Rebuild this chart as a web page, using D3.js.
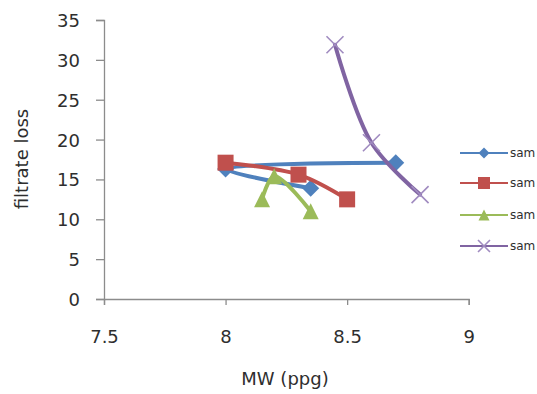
<!DOCTYPE html>
<html>
<head>
<meta charset="utf-8">
<script src="https://cdn.jsdelivr.net/npm/d3@7/dist/d3.min.js"></script>
<style>
  html, body { margin: 0; padding: 0; background: #fff; }
  svg { display: block; font-family: "DejaVu Sans", sans-serif; }
</style>
</head>
<body>
<svg id="chart" width="537" height="394"></svg>
<script>
// Series: mud weight (ppg) vs filtrate loss, in plotting order
const seriesNames = ["sam", "sam", "sam", "sam"];
const s1MW = [8.35, 8.0, 8.7];
const s1Loss = [13.9, 16.3, 17.1];
const s2MW = [8.0, 8.3, 8.5];
const s2Loss = [17.1, 15.6, 12.5];
const s3MW = [8.15, 8.2, 8.35];
const s3Loss = [12.5, 15.4, 11.0];
const s4MW = [8.45, 8.6, 8.8];
const s4Loss = [31.9, 19.6, 13.1];
const xTicks = [7.5, 8, 8.5, 9];
const yTicks = [0, 5, 10, 15, 20, 25, 30, 35];

const colors = ["#4F81BD", "#C0504D", "#9BBB59", "#8064A2"];
const markers = ["diamond", "square", "triangle", "cross"];
const series = [
  { mw: s1MW, loss: s1Loss },
  { mw: s2MW, loss: s2Loss },
  { mw: s3MW, loss: s3Loss },
  { mw: s4MW, loss: s4Loss }
].map((s, i) => ({
  name: seriesNames[i], color: colors[i], marker: markers[i],
  points: s.mw.map((m, j) => [m, s.loss[j]])
}));

const svg = d3.select("#chart");
const x = d3.scaleLinear().domain([7.5, 9]).range([104, 468.7]);
const y = d3.scaleLinear().domain([0, 35]).range([299, 20]);

const axisColor = "#8c8c8c";
const textColor = "#2e2e2e";

// Y axis
const gy = svg.append("g").attr("transform", `translate(${x.range()[0]},0)`)
  .call(d3.axisLeft(y).tickValues(yTicks).tickSize(8).tickPadding(16).tickFormat(d3.format("d")));
// X axis
const gx = svg.append("g").attr("transform", `translate(0,${y.range()[0]})`)
  .call(d3.axisBottom(x).tickValues(xTicks).tickSize(6).tickFormat(d => String(d)));

[gx, gy].forEach(g => {
  g.select(".domain").attr("stroke", axisColor).attr("stroke-width", 1.3);
  g.selectAll(".tick line").attr("stroke", axisColor).attr("stroke-width", 1.3);
  g.selectAll(".tick text").attr("fill", textColor).attr("font-size", 18)
    .attr("font-family", "DejaVu Sans, sans-serif");
});
gy.selectAll(".tick text").attr("dy", "0.36em");
gx.selectAll(".tick text").attr("y", 44).attr("dy", 0);

// Axis titles
svg.append("text").attr("transform", "translate(28,159) rotate(-90)")
  .attr("text-anchor", "middle").attr("font-size", 18).attr("fill", textColor)
  .text("filtrate loss");
svg.append("text").attr("x", 285).attr("y", 385)
  .attr("text-anchor", "middle").attr("font-size", 18).attr("fill", textColor)
  .text("MW (ppg)");

// Marker drawing
function drawMarker(g, type, color, cx, cy, s) {
  const h = s / 2;
  if (type === "diamond") {
    g.append("path").attr("d", `M${cx},${cy - h}L${cx + h},${cy}L${cx},${cy + h}L${cx - h},${cy}Z`)
      .attr("fill", color);
  } else if (type === "square") {
    g.append("rect").attr("x", cx - h).attr("y", cy - h).attr("width", s).attr("height", s)
      .attr("fill", color);
  } else if (type === "triangle") {
    g.append("path").attr("d", `M${cx},${cy - h}L${cx + h},${cy + h}L${cx - h},${cy + h}Z`)
      .attr("fill", color);
  } else {
    g.append("path").attr("d", `M${cx - h},${cy - h}L${cx + h},${cy + h}M${cx + h},${cy - h}L${cx - h},${cy + h}`)
      .attr("stroke", "#a08bc0").attr("stroke-width", 1.6).attr("fill", "none");
  }
}

const markerSize = { diamond: 17, square: 16, triangle: 16, cross: 17 };
const line = d3.line().x(d => x(d[0])).y(d => y(d[1])).curve(d3.curveCatmullRom.alpha(0.5));

series.forEach(s => {
  const g = svg.append("g");
  g.append("path").attr("d", line(s.points)).attr("fill", "none")
    .attr("stroke", s.color).attr("stroke-width", 4).attr("stroke-linecap", "round")
    .attr("stroke-linejoin", "round");
  s.points.forEach(p => drawMarker(g, s.marker, s.color, x(p[0]), y(p[1]), markerSize[s.marker]));
});

// Legend
const legendY = [153, 183, 215, 246];
const legendMarker = { diamond: 11, square: 12, triangle: 11, cross: 12 };
series.forEach((s, i) => {
  const g = svg.append("g");
  g.append("line").attr("x1", 460).attr("x2", 508).attr("y1", legendY[i]).attr("y2", legendY[i])
    .attr("stroke", s.color).attr("stroke-width", 2);
  drawMarker(g, s.marker, s.color, 484, legendY[i], legendMarker[s.marker]);
  g.append("text").attr("x", 510).attr("y", legendY[i]).attr("dy", "0.35em")
    .attr("font-size", 12).attr("fill", textColor).text(s.name);
});
</script>
</body>
</html>
